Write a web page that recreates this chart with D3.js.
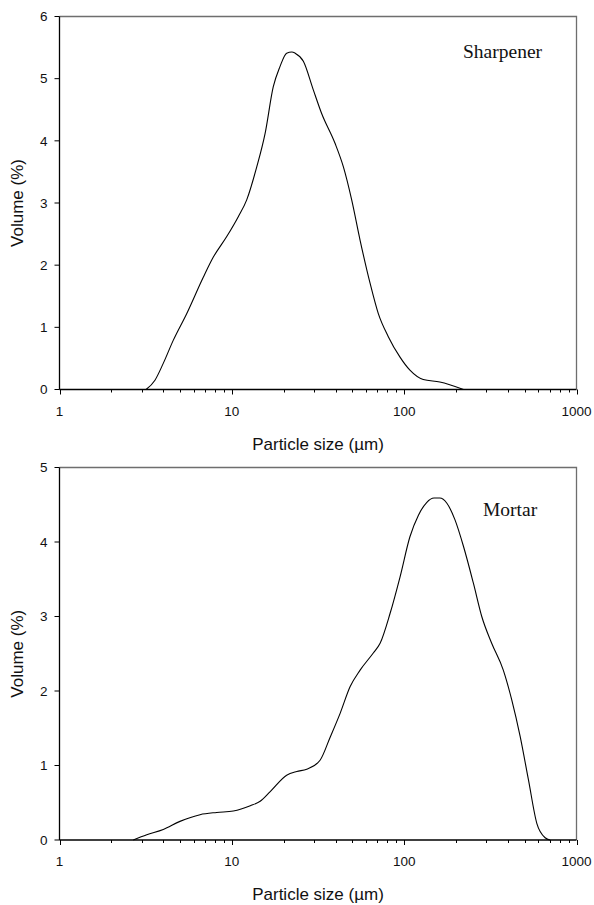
<!DOCTYPE html>
<html>
<head>
<meta charset="utf-8">
<script src="https://cdnjs.cloudflare.com/ajax/libs/d3/7.8.5/d3.min.js"></script>
<style>
  body { margin: 0; background: #fff; }
</style>
</head>
<body>
<script>
// particle size (um) and volume (%)
var sharpSize = [3.18, 3.58, 4.0, 4.57, 5.47, 6.84, 7.81, 9.34, 10.9, 12.2, 13.95, 15.6, 17.4, 19.0, 20.8, 22.3,
  23.3, 26.0, 29.7, 33.2, 39.7, 44.4, 49.6, 55.5, 63.4, 70.8, 80.9, 94.6, 108, 129, 161, 221];
var sharpVol = [0, 0.15, 0.42, 0.79, 1.22, 1.81, 2.13, 2.46, 2.78, 3.05, 3.58, 4.12, 4.87, 5.19, 5.41, 5.43,
  5.41, 5.28, 4.82, 4.44, 3.96, 3.58, 3.05, 2.40, 1.71, 1.22, 0.85, 0.52, 0.31, 0.16, 0.12, 0];

var mortarSize = [2.68, 3.21, 4.0, 5.0, 6.54, 8.17, 10.2, 12.8, 14.6, 16.7, 20.8, 23.8, 27.2, 32.5, 37.2, 42.5,
  48.6, 55.5, 66.2, 72.5, 82.8, 94.6, 108, 121, 135, 149, 161, 177, 197, 221, 252, 282, 322, 376, 421, 471,
  526, 589, 658, 703];
var mortarVol = [0, 0.07, 0.14, 0.25, 0.34, 0.37, 0.39, 0.46, 0.52, 0.65, 0.87, 0.92, 0.95, 1.07, 1.38, 1.70,
  2.06, 2.28, 2.51, 2.64, 3.04, 3.53, 4.07, 4.36, 4.53, 4.59, 4.59, 4.52, 4.30, 3.94, 3.45, 3.00, 2.64, 2.28, 1.88, 1.39,
  0.81, 0.22, 0.03, 0];

var xTicks = [1, 10, 100, 1000];
var sharpYTicks = [0, 1, 2, 3, 4, 5, 6];
var mortarYTicks = [0, 1, 2, 3, 4, 5];

var panels = [
  {name: "Sharpener", size: sharpSize, vol: sharpVol, ymax: 6, yTicks: sharpYTicks, top: 16.5, bottom: 389.5, labelX: 463, labelY: 58},
  {name: "Mortar", size: mortarSize, vol: mortarVol, ymax: 5, yTicks: mortarYTicks, top: 467.5, bottom: 840, labelX: 483, labelY: 516}
];

var width = 594, height = 905;
var left = 59.5, right = 576.5;

var svg = d3.select("body").append("svg")
  .attr("width", width).attr("height", height);

var x = d3.scaleLog().domain([1, 1000]).range([left, right]);

// minor ticks 2..9 in each decade
var minor = [];
for (var d = 1; d < 1000; d *= 10) {
  for (var k = 2; k <= 9; k++) minor.push(d * k);
}

panels.forEach(function(p){
  var y = d3.scaleLinear().domain([0, p.ymax]).range([p.bottom, p.top]);
  var g = svg.append("g");

  //frame top + right (grey)
  g.append("path")
    .attr("d", "M" + left + "," + p.top + "H" + right + "V" + p.bottom)
    .attr("fill", "none")
    .attr("stroke", "#6e6e6e")
    .attr("stroke-width", 1.3);

  //x axis
  var xAxis = g.append("g").attr("transform", "translate(0," + p.bottom + ")");
  xAxis.append("line").attr("x1", left).attr("x2", right).attr("y1", 0).attr("y2", 0)
    .attr("stroke", "#000").attr("stroke-width", 1.3);
  xAxis.selectAll("line.minor").data(minor).enter().append("line")
    .attr("class", "minor")
    .attr("x1", d => Math.round(x(d)) + 0.5).attr("x2", d => Math.round(x(d)) + 0.5)
    .attr("y1", 0).attr("y2", 3)
    .attr("stroke", "#000").attr("stroke-width", 1);
  xAxis.selectAll("line.major").data(xTicks).enter().append("line")
    .attr("class", "major")
    .attr("x1", d => Math.round(x(d)) + 0.5).attr("x2", d => Math.round(x(d)) + 0.5)
    .attr("y1", 0).attr("y2", 5)
    .attr("stroke", "#000").attr("stroke-width", 1);
  xAxis.selectAll("text").data(xTicks).enter().append("text")
    .text(d => d)
    .attr("x", d => x(d))
    .attr("y", 26)
    .attr("text-anchor", "middle")
    .attr("font-family", "Liberation Sans, Arial")
    .attr("font-size", "13.5px")
    .attr("fill", "#111");

  //y axis
  var yAxis = g.append("g").attr("transform", "translate(" + left + ",0)");
  yAxis.append("line").attr("x1", 0).attr("x2", 0).attr("y1", p.top).attr("y2", p.bottom)
    .attr("stroke", "#000").attr("stroke-width", 1.3);
  yAxis.selectAll("line.tick").data(p.yTicks).enter().append("line")
    .attr("class", "tick")
    .attr("x1", -5).attr("x2", 0)
    .attr("y1", d => y(d)).attr("y2", d => y(d))
    .attr("stroke", "#000").attr("stroke-width", 1);
  yAxis.selectAll("text").data(p.yTicks).enter().append("text")
    .text(d => d)
    .attr("x", -12)
    .attr("y", d => y(d) + 4.8)
    .attr("text-anchor", "end")
    .attr("font-family", "Liberation Sans, Arial")
    .attr("font-size", "13.5px")
    .attr("fill", "#111");

  //titles
  g.append("text")
    .text("Particle size (\u00b5m)")
    .attr("x", (left + right) / 2)
    .attr("y", p.bottom + 60)
    .attr("text-anchor", "middle")
    .attr("font-family", "Liberation Sans, Arial")
    .attr("font-size", "17px")
    .attr("fill", "#111");
  g.append("text")
    .text("Volume (%)")
    .attr("transform", "translate(23," + ((p.top + p.bottom) / 2) + ") rotate(-90)")
    .attr("text-anchor", "middle")
    .attr("font-family", "Liberation Sans, Arial")
    .attr("font-size", "17px")
    .attr("fill", "#111");

  g.append("text")
    .text(p.name)
    .attr("x", p.labelX)
    .attr("y", p.labelY)
    .attr("font-family", "Liberation Serif, Times New Roman")
    .attr("font-size", "19.5px")
    .attr("fill", "#111");

  //curve
  var pts = p.size.map(function(s, i){ return [s, p.vol[i]]; });
  var line = d3.line()
    .x(d => x(d[0]))
    .y(d => y(d[1]))
    .curve(d3.curveMonotoneX);
  g.append("path")
    .attr("d", line(pts))
    .attr("fill", "none")
    .attr("stroke", "#000")
    .attr("stroke-width", 1.1);
});
</script>
</body>
</html>
